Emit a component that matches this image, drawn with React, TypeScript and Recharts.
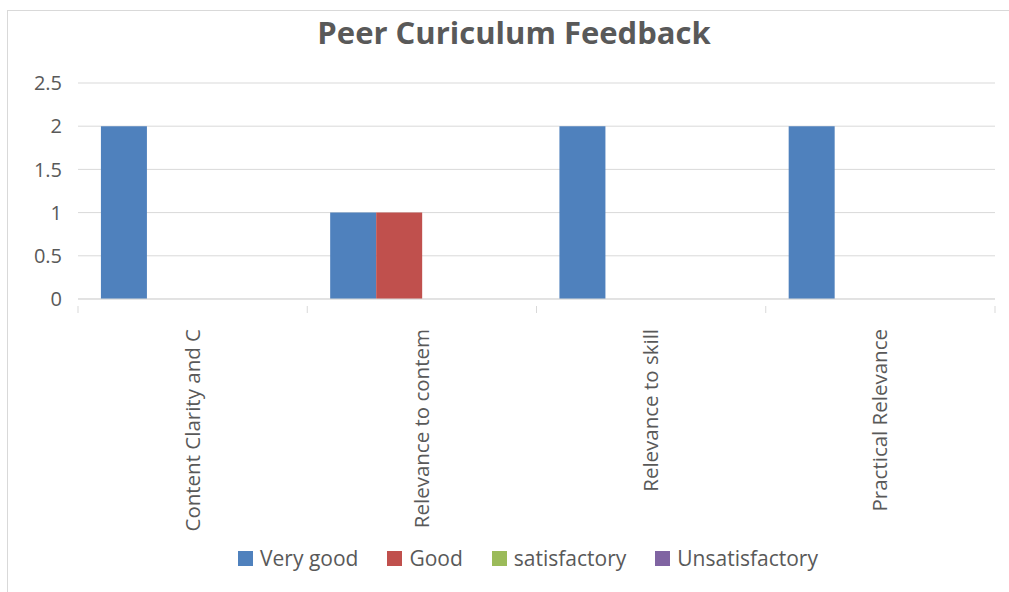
import React from "react";
import { BarChart, Bar, XAxis, YAxis, CartesianGrid, Legend } from "recharts";

const categories = ["Content Clarity and C", "Relevance to contem", "Relevance to skill", "Practical Relevance"];
const veryGood = [2, 1, 2, 2];
const good = [0, 1, 0, 0];
const satisfactory = [0, 0, 0, 0];
const unsatisfactory = [0, 0, 0, 0];
const yTicks = [0, 0.5, 1, 1.5, 2, 2.5];

const seriesNames = ["Very good", "Good", "satisfactory", "Unsatisfactory"];
const seriesKeys = ["veryGood", "good", "satisfactory", "unsatisfactory"];
const seriesColors = ["#4f81bd", "#c0504d", "#9bbb59", "#8064a2"];

const data = categories.map((c, i) => ({
  name: c,
  veryGood: veryGood[i],
  good: good[i],
  satisfactory: satisfactory[i],
  unsatisfactory: unsatisfactory[i],
}));

const FONT = "'Open Sans', sans-serif";
const TEXT = "#595959";
const GRID = "#d9d9d9";

const XTick = (props: any) => {
  const { x, y, payload, index } = props;
  const half = payload && payload.offset ? payload.offset : 114.6;
  const isLast = index === categories.length - 1;
  return (
    <g>
      <line x1={x - half} x2={x - half} y1={y - 1} y2={y + 6} stroke={GRID} strokeWidth={1} />
      {isLast && <line x1={x + half} x2={x + half} y1={y - 1} y2={y + 6} stroke={GRID} strokeWidth={1} />}
      <text
        x={0}
        y={0}
        transform={`translate(${x + 7},${y + 22}) rotate(-90)`}
        textAnchor="end"
        fontFamily={FONT}
        fontSize={20.5}
        fill={TEXT}
      >
        {payload.value}
      </text>
    </g>
  );
};

const LegendContent = () => (
  <div style={{ display: "flex", justifyContent: "center", paddingLeft: 47, fontFamily: FONT, fontSize: 21, color: TEXT }}>
    {seriesNames.map((n, i) => (
      <div key={n} style={{ display: "flex", alignItems: "center", marginRight: i < 3 ? 29 : 0 }}>
        <span style={{ display: "inline-block", width: 15, height: 15, background: seriesColors[i], marginRight: 7 }} />
        <span>{n}</span>
      </div>
    ))}
  </div>
);

export default function App() {
  return (
    <div style={{ position: "absolute", left: 0, top: 0, width: 1009, height: 592, background: "#fff" }}>
      <div style={{ position: "absolute", left: 7, top: 10, width: 1002, height: 582, borderLeft: "1px solid #d9d9d9", borderTop: "1px solid #d9d9d9" }} />
      <div style={{ position: "absolute", left: 0, top: 11, width: 1028, textAlign: "center", fontFamily: FONT, fontWeight: 700, fontSize: 31, color: TEXT }}>
        Peer Curiculum Feedback
      </div>
      <div style={{ position: "absolute", left: 0, top: 0 }}>
        <BarChart
          width={1009}
          height={592}
          data={data}
          margin={{ top: 83, right: 14, left: 0, bottom: 0 }}
          barCategoryGap="10%"
          barGap={0}
        >
          <CartesianGrid vertical={false} stroke={GRID} strokeWidth={1} />
          <XAxis
            dataKey="name"
            interval={0}
            height={253}
            tickLine={false}
            axisLine={{ stroke: GRID }}
            tick={<XTick />}
          />
          <YAxis
            domain={[0, 2.5]}
            ticks={yTicks}
            width={78}
            axisLine={false}
            tickLine={false}
            tickSize={0}
            tickMargin={16}
            tick={{ fontFamily: FONT, fontSize: 20, fill: TEXT }}
          />
          <Legend
            verticalAlign="bottom"
            height={40}
            content={<LegendContent />}
            wrapperStyle={{ top: 544, left: 0, width: 1009 }}
          />
          {seriesKeys.map((k, i) => (
            <Bar key={k} dataKey={k} name={seriesNames[i]} fill={seriesColors[i]} isAnimationActive={false} />
          ))}
        </BarChart>
      </div>
    </div>
  );
}
